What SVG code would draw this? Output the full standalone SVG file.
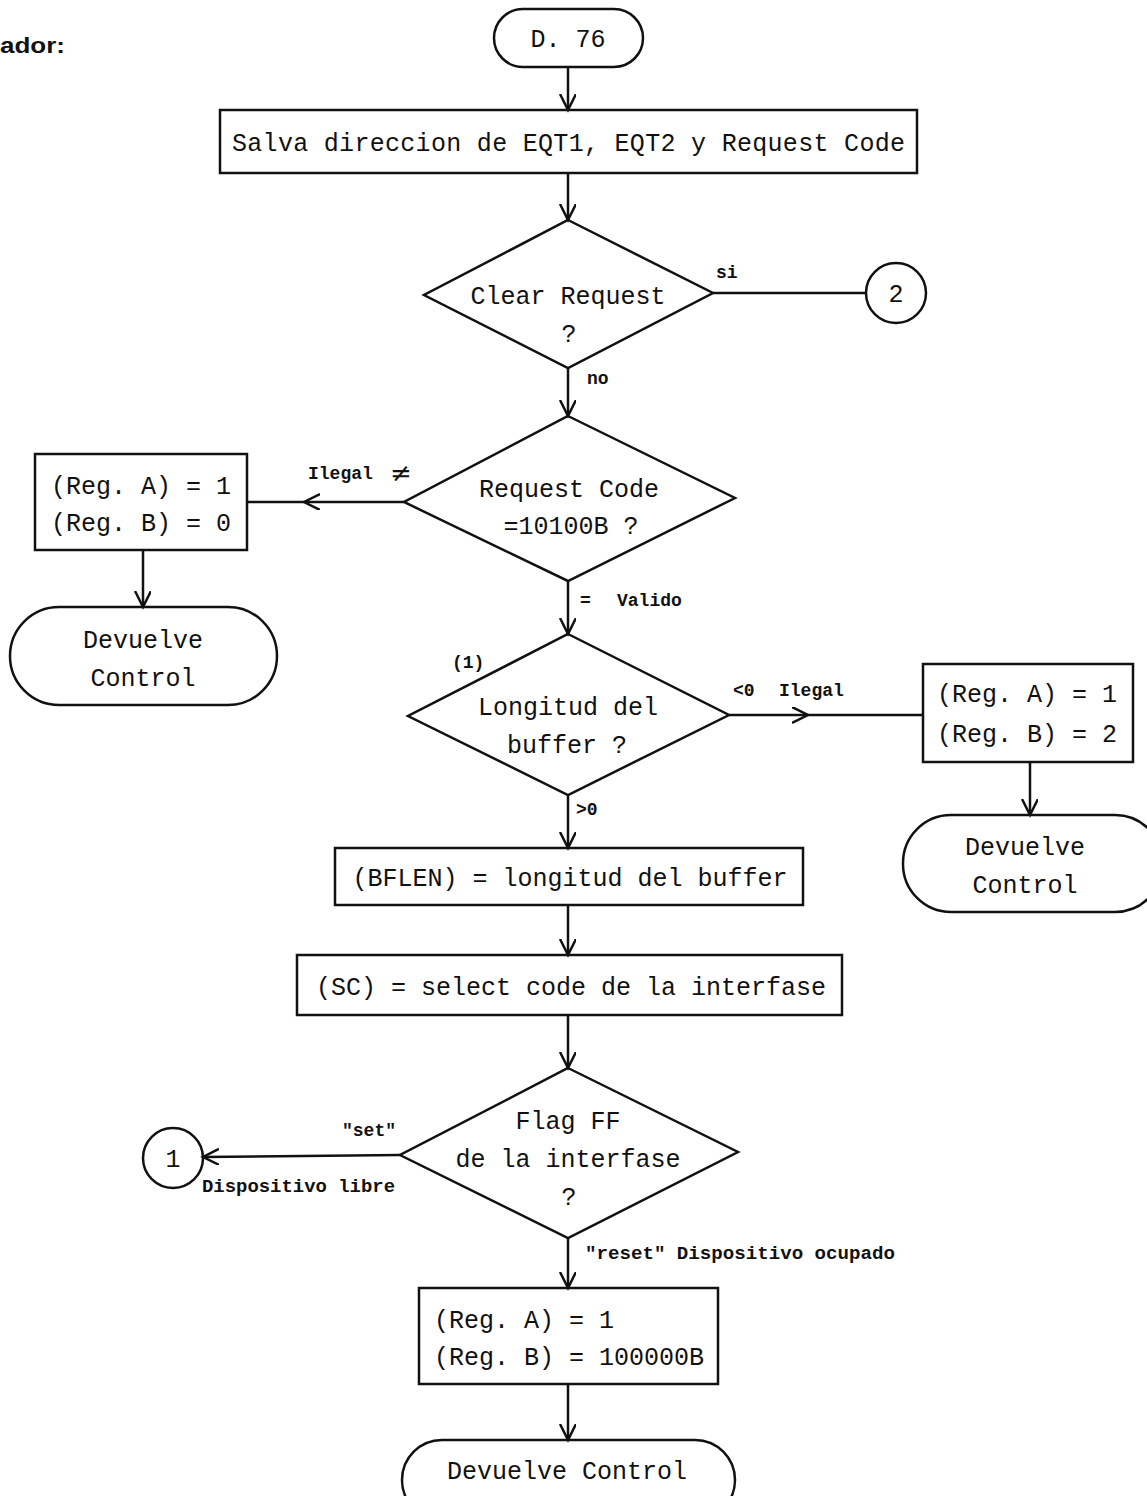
<svg xmlns="http://www.w3.org/2000/svg" width="1147" height="1496" viewBox="0 0 1147 1496">
<defs>
<marker id="arr" markerUnits="userSpaceOnUse" markerWidth="20" markerHeight="20" refX="16" refY="8" orient="auto" viewBox="0 0 20 20">
<path d="M0,0 L16,8 L0,16" fill="none" stroke="#111" stroke-width="2.5"/>
</marker>
</defs>
<style>
.s{fill:none;stroke:#111;stroke-width:2.5}
.t{font-family:"Liberation Mono","DejaVu Sans Mono",monospace;font-size:25px;fill:#111;text-anchor:middle}
.tl{font-family:"Liberation Mono","DejaVu Sans Mono",monospace;font-size:25px;fill:#111}
.l{font-family:"Liberation Mono","DejaVu Sans Mono",monospace;font-size:18px;font-weight:bold;fill:#111}
.c{fill:none;stroke:#111;stroke-width:2.5}
</style>
<rect width="1147" height="1496" fill="#fff"/>
<text x="0" y="53" font-family="Liberation Sans, Arial, sans-serif" font-size="22" font-weight="bold" fill="#111" textLength="65" lengthAdjust="spacingAndGlyphs">ador:</text>

<g id="connectors">
<line class="c" x1="568" y1="67" x2="568" y2="110" marker-end="url(#arr)"/>
<line class="c" x1="568" y1="173" x2="568" y2="220" marker-end="url(#arr)"/>
<line class="c" x1="713" y1="293" x2="866" y2="293"/>
<line class="c" x1="568" y1="368" x2="568" y2="416" marker-end="url(#arr)"/>
<polyline class="c" points="404,502 304,502 247,502" marker-mid="url(#arr)"/>
<line class="c" x1="143" y1="550" x2="143" y2="607" marker-end="url(#arr)"/>
<line class="c" x1="568" y1="581" x2="568" y2="634" marker-end="url(#arr)"/>
<polyline class="c" points="729,715 808,715 923,715" marker-mid="url(#arr)"/>
<line class="c" x1="1030" y1="762" x2="1030" y2="815" marker-end="url(#arr)"/>
<line class="c" x1="568" y1="795" x2="568" y2="848" marker-end="url(#arr)"/>
<line class="c" x1="568" y1="905" x2="568" y2="955" marker-end="url(#arr)"/>
<line class="c" x1="568" y1="1015" x2="568" y2="1068" marker-end="url(#arr)"/>
<line class="c" x1="400" y1="1155" x2="203" y2="1157" marker-end="url(#arr)"/>
<line class="c" x1="568" y1="1238" x2="568" y2="1288" marker-end="url(#arr)"/>
<line class="c" x1="568" y1="1384" x2="568" y2="1440" marker-end="url(#arr)"/>
<text class="l" x="716" y="278">si</text>
<text class="l" x="587" y="384">no</text>
<text class="l" x="308" y="479">Ilegal</text>
<text x="390" y="482" font-family="DejaVu Sans, sans-serif" font-size="26" fill="#111">≠</text>
<text class="l" x="580" y="606">=</text>
<text class="l" x="617" y="606">Valido</text>
<text class="l" x="452" y="668">(1)</text>
<text class="l" x="733" y="696">&lt;0</text>
<text class="l" x="779" y="696">Ilegal</text>
<text class="l" x="576" y="815">&gt;0</text>
<text class="l" x="342" y="1136">"set"</text>
<text class="l" x="202" y="1192" textLength="193" lengthAdjust="spacingAndGlyphs">Dispositivo libre</text>
<text class="l" x="585" y="1259" textLength="310" lengthAdjust="spacingAndGlyphs">"reset" Dispositivo ocupado</text>
</g>

<g id="start">
<rect class="s" x="494" y="9" width="149" height="58" rx="29"/>
<text class="t" x="568" y="47">D. 76</text>
</g>

<g id="salva">
<rect class="s" x="220" y="110" width="697" height="63"/>
<text class="tl" x="232" y="151" textLength="673" lengthAdjust="spacing">Salva direccion de EQT1, EQT2 y Request Code</text>
</g>

<g id="clear-request">
<polygon class="s" points="568,220 713,293 568,368 424,295"/>
<text class="t" x="568" y="304">Clear Request</text>
<text class="t" x="569" y="342">?</text>
</g>

<g id="conn2">
<circle class="s" cx="896" cy="293" r="30"/>
<text class="t" x="896" y="302">2</text>
</g>

<g id="request-code">
<polygon class="s" points="568,416 735,498 568,581 404,502"/>
<text class="t" x="569" y="497">Request Code</text>
<text class="t" x="571" y="534">=10100B ?</text>
</g>

<g id="reg-a1-b0">
<rect class="s" x="35" y="454" width="212" height="96"/>
<text class="tl" x="51" y="494">(Reg. A) = 1</text>
<text class="tl" x="51" y="531">(Reg. B) = 0</text>
</g>

<g id="devuelve-left">
<rect class="s" x="10" y="607" width="267" height="98" rx="49"/>
<text class="t" x="143" y="648">Devuelve</text>
<text class="t" x="143" y="686">Control</text>
</g>

<g id="longitud">
<polygon class="s" points="568,634 729,715 568,795 408,716"/>
<text class="t" x="568" y="715">Longitud del</text>
<text class="t" x="567" y="753">buffer ?</text>
</g>

<g id="reg-a1-b2">
<rect class="s" x="923" y="664" width="210" height="98"/>
<text class="tl" x="937" y="702">(Reg. A) = 1</text>
<text class="tl" x="937" y="742">(Reg. B) = 2</text>
</g>

<g id="devuelve-right">
<rect class="s" x="903" y="815" width="260" height="97" rx="48"/>
<text class="t" x="1025" y="855">Devuelve</text>
<text class="t" x="1025" y="893">Control</text>
</g>

<g id="bflen">
<rect class="s" x="335" y="848" width="468" height="57"/>
<text class="t" x="570" y="886">(BFLEN) = longitud del buffer</text>
</g>

<g id="sc">
<rect class="s" x="297" y="955" width="545" height="60"/>
<text class="t" x="571" y="995">(SC) = select code de la interfase</text>
</g>

<g id="flag-ff">
<polygon class="s" points="568,1068 738,1152 568,1238 400,1155"/>
<text class="t" x="568" y="1129">Flag FF</text>
<text class="t" x="568" y="1167">de la interfase</text>
<text class="t" x="569" y="1205">?</text>
</g>

<g id="conn1">
<circle class="s" cx="173" cy="1158" r="30"/>
<text class="t" x="173" y="1167">1</text>
</g>

<g id="reg-a1-b100000">
<rect class="s" x="419" y="1288" width="299" height="96"/>
<text class="tl" x="434" y="1328">(Reg. A) = 1</text>
<text class="tl" x="434" y="1365">(Reg. B) = 100000B</text>
</g>

<g id="devuelve-bottom">
<rect class="s" x="402" y="1440" width="333" height="80" rx="40"/>
<text class="t" x="567" y="1479">Devuelve Control</text>
</g>
</svg>
